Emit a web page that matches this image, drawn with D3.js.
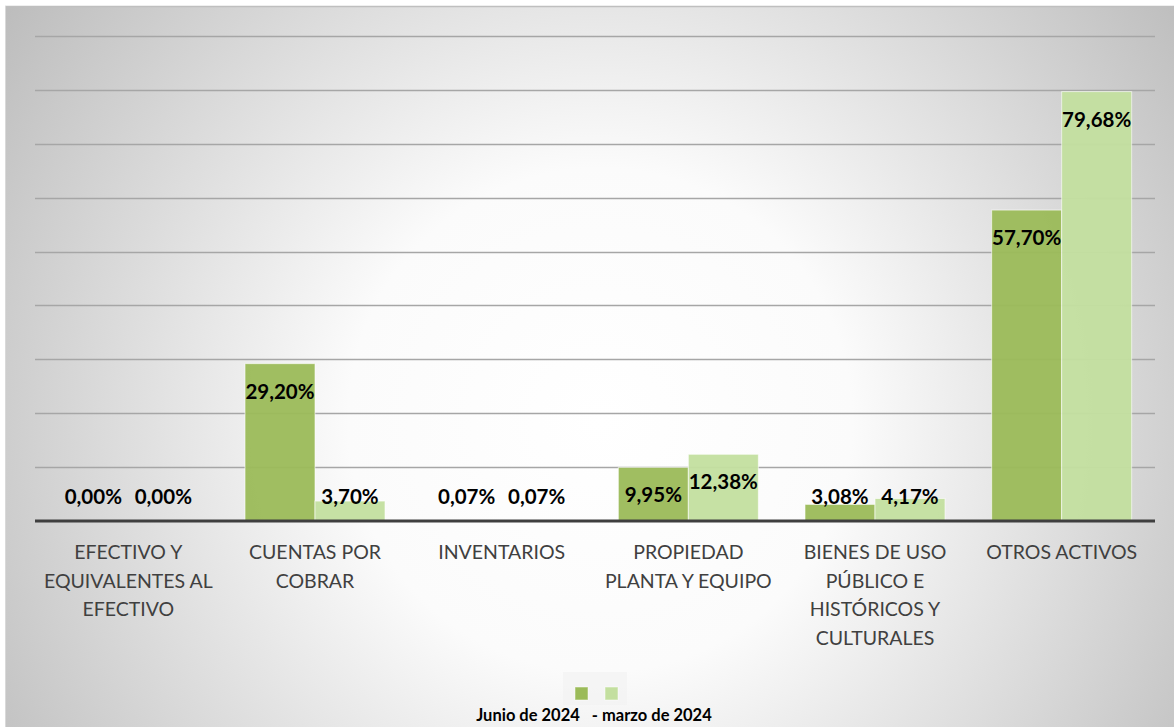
<!DOCTYPE html>
<html>
<head>
<meta charset="utf-8">
<script src="https://cdn.jsdelivr.net/npm/d3@7"></script>
<style>
html,body{margin:0;padding:0;background:#fff;}
svg{display:block;}
</style>
</head>
<body>
<svg id="chart" width="1174" height="727"></svg>
<script>
const categories = [
  ["EFECTIVO Y", "EQUIVALENTES AL", "EFECTIVO"],
  ["CUENTAS POR", "COBRAR"],
  ["INVENTARIOS"],
  ["PROPIEDAD", "PLANTA Y EQUIPO"],
  ["BIENES DE USO", "PÚBLICO E", "HISTÓRICOS Y", "CULTURALES"],
  ["OTROS ACTIVOS"]
];
const seriesNames = ["Junio de 2024", "- marzo de 2024"];
const junio2024 = [0.00, 29.20, 0.07, 9.95, 3.08, 57.70];
const marzo2024 = [0.00, 3.70, 0.07, 12.38, 4.17, 79.68];
const yTicks = [0, 10, 20, 30, 40, 50, 60, 70, 80, 90];
const colors = ["#9bbb59", "#c3df9f"];

(function () {
const svg = d3.select("#chart");
const W = 1174, H = 727;
const defs = svg.append("defs");
const rg = defs.append("radialGradient").attr("id", "bg")
  .attr("gradientUnits", "userSpaceOnUse")
  .attr("cx", 600).attr("cy", 420).attr("r", 720);
rg.append("stop").attr("offset", "0%").attr("stop-color", "#ffffff");
rg.append("stop").attr("offset", "35%").attr("stop-color", "#fbfbfb");
rg.append("stop").attr("offset", "100%").attr("stop-color", "#bdbdbd");

svg.append("rect").attr("x", 5).attr("y", 6).attr("width", W - 5).attr("height", H - 6)
  .attr("fill", "url(#bg)");
svg.append("line").attr("x1", 5).attr("x2", W).attr("y1", 6.5).attr("y2", 6.5)
  .attr("stroke", "#bfbfbf").attr("stroke-width", 1.5);
svg.append("line").attr("x1", 5.5).attr("x2", 5.5).attr("y1", 6).attr("y2", H)
  .attr("stroke", "#d9d9d9").attr("stroke-width", 1);

const pLeft = 35, pRight = 1155, pTop = 36, base = 521;
const x0 = d3.scaleBand().domain(d3.range(categories.length)).range([pLeft, pRight]).paddingInner(0.25).paddingOuter(0.125);
const x1 = d3.scaleBand().domain([0, 1]).range([0, x0.bandwidth()]).padding(0);
const y = d3.scaleLinear().domain([0, 90]).range([base, pTop]);

// gridlines
svg.append("g").selectAll("line").data(yTicks.filter(t => t > 0)).join("line")
  .attr("x1", pLeft).attr("x2", pRight)
  .attr("y1", d => Math.round(y(d)) + 0.5).attr("y2", d => Math.round(y(d)) + 0.5)
  .attr("stroke", "#a6a6a6").attr("stroke-width", 1.3);

const series = [junio2024, marzo2024];
const bars = svg.append("g");
series.forEach((vals, si) => {
  bars.selectAll(null).data(vals).join("rect")
    .attr("x", (d, i) => x0(i) + x1(si))
    .attr("y", d => y(d))
    .attr("width", x1.bandwidth())
    .attr("height", d => base - y(d))
    .attr("fill", colors[si])
    .attr("fill-opacity", 0.95)
    .attr("stroke", "#ffffff").attr("stroke-opacity", 0.6).attr("stroke-width", 1);
});

// baseline
svg.append("line").attr("x1", pLeft).attr("x2", pRight).attr("y1", base).attr("y2", base)
  .attr("stroke", "#3f3f3f").attr("stroke-width", 3);

// data labels
const fmt = v => v.toFixed(2).replace(".", ",") + "%";
series.forEach((vals, si) => {
  svg.append("g").selectAll("text").data(vals).join("text")
    .attr("x", (d, i) => x0(i) + x1(si) + x1.bandwidth() / 2)
    .attr("y", d => Math.min(y(d) + 28, 497) + 7)
    .attr("text-anchor", "middle")
    .attr("font-family", "Lato, 'Open Sans', sans-serif")
    .attr("font-weight", "bold")
    .attr("font-size", 20.5)
    .attr("fill", "#000")
    .text(fmt);
});

// category labels
const catG = svg.append("g");
categories.forEach((lines, i) => {
  const t = catG.append("text")
    .attr("x", x0(i) + x0.bandwidth() / 2)
    .attr("y", 559)
    .attr("text-anchor", "middle")
    .attr("font-family", "Lato, 'Open Sans', sans-serif")
    .attr("font-size", 19.5)
    .attr("fill", "#404040");
  lines.forEach((ln, j) => {
    t.append("tspan").attr("x", x0(i) + x0.bandwidth() / 2).attr("dy", j === 0 ? 0 : 28.7).text(ln);
  });
});

// legend
svg.append("rect").attr("x", 563).attr("y", 672).attr("width", 64).attr("height", 33)
  .attr("fill", "#f2f2f2").attr("fill-opacity", 0.6);
const lg = svg.append("g");
lg.selectAll("rect").data(seriesNames).join("rect")
  .attr("x", (d, i) => 575 + i * 30).attr("y", 687)
  .attr("width", 13).attr("height", 13)
  .attr("fill", (d, i) => colors[i])
  .attr("stroke", "#fff").attr("stroke-opacity", 0.5);
svg.append("text").attr("x", 594).attr("y", 721)
  .attr("text-anchor", "middle")
  .attr("font-family", "Lato, 'Open Sans', sans-serif")
  .attr("font-weight", "bold").attr("font-size", 16.5).attr("fill", "#000")
  .attr("xml:space", "preserve")
  .text(seriesNames[0] + "   " + seriesNames[1]);
})();
</script>
</body>
</html>
